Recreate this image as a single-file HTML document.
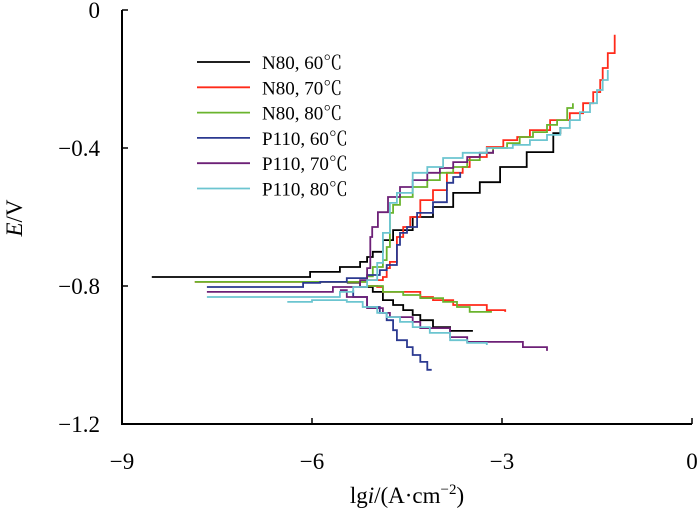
<!DOCTYPE html>
<html><head><meta charset="utf-8"><style>
body{margin:0;background:#fff;}
svg{display:block;font-family:"Liberation Serif","Noto Serif CJK SC",serif;}
</style></head><body>
<svg width="700" height="515" viewBox="0 0 700 515">
<g id="plot"></g>
<g id="axes"></g>
<g id="legend"></g>
</svg>
<script>
const xTicks = [-9, -6, -3, 0];
const yTicks = [0, -0.4, -0.8, -1.2];
const yTickLabels = ["0", "\u22120.4", "\u22120.8", "\u22121.2"];
const xTickLabels = ["\u22129", "\u22126", "\u22123", "0"];
const seriesNames = ["N80, 60\u2103","N80, 70\u2103","N80, 80\u2103","P110, 60\u2103","P110, 70\u2103","P110, 80\u2103"];
const seriesColors = ["#000000","#ff2a1a","#6ab42d","#2b3990","#6d2077","#6cc5d0"];
const n80_60_anodic = [[-8.53,-0.774],[-6.03,-0.759],[-5.56,-0.745],[-5.24,-0.730],[-5.13,-0.716],[-5.04,-0.701],[-4.88,-0.667],[-4.72,-0.638],[-4.41,-0.600],[-4.09,-0.571],[-3.77,-0.530],[-3.35,-0.499],[-3.03,-0.455],[-2.61,-0.412],[-2.19,-0.357],[-2.08,-0.339]];
const n80_60_cathodic = [[-5.45,-0.79],[-5.24,-0.803],[-5.04,-0.817],[-4.88,-0.841],[-4.72,-0.855],[-4.56,-0.870],[-4.41,-0.884],[-4.29,-0.899],[-4.09,-0.919],[-3.82,-0.930],[-3.46,-0.930]];
const n80_70_anodic = [[-7.85,-0.788],[-5.13,-0.783],[-4.88,-0.774],[-4.82,-0.748],[-4.77,-0.730],[-4.66,-0.701],[-4.66,-0.658],[-4.56,-0.629],[-4.45,-0.600],[-4.29,-0.551],[-4.09,-0.522],[-3.87,-0.472],[-3.62,-0.455],[-3.51,-0.426],[-3.24,-0.397],[-2.98,-0.377],[-2.76,-0.368],[-2.56,-0.348],[-2.24,-0.319],[-1.93,-0.299],[-1.72,-0.270],[-1.56,-0.238],[-1.45,-0.203],[-1.41,-0.168],[-1.33,-0.125],[-1.22,-0.125],[-1.22,-0.072]];
const n80_70_cathodic = [[-5.13,-0.80],[-4.97,-0.803],[-4.88,-0.817],[-4.29,-0.832],[-4.09,-0.841],[-3.77,-0.855],[-3.24,-0.870],[-2.95,-0.875]];
const n80_80_anodic = [[-7.85,-0.788],[-5.35,-0.788],[-5.13,-0.772],[-5.04,-0.745],[-4.88,-0.725],[-4.82,-0.687],[-4.77,-0.588],[-4.72,-0.565],[-4.61,-0.542],[-4.41,-0.513],[-4.18,-0.493],[-3.98,-0.472],[-3.77,-0.455],[-3.55,-0.435],[-3.35,-0.414],[-3.14,-0.400],[-2.92,-0.386],[-2.72,-0.368],[-2.51,-0.354],[-2.29,-0.333],[-2.13,-0.319],[-1.97,-0.284],[-1.88,-0.270]];
const n80_80_cathodic = [[-5.13,-0.80],[-4.88,-0.817],[-4.56,-0.826],[-4.29,-0.835],[-3.93,-0.846],[-3.71,-0.861],[-3.51,-0.875],[-3.16,-0.875]];
const p110_60_anodic = [[-7.66,-0.803],[-6.14,-0.791],[-5.87,-0.788],[-5.45,-0.777],[-5.13,-0.768],[-4.93,-0.754],[-4.82,-0.739],[-4.66,-0.681],[-4.61,-0.646],[-4.50,-0.629],[-4.34,-0.588],[-4.09,-0.557],[-3.87,-0.501],[-3.77,-0.484],[-3.66,-0.470]];
const p110_60_cathodic = [[-5.35,-0.812],[-5.35,-0.832],[-5.13,-0.861],[-4.93,-0.878],[-4.82,-0.899],[-4.72,-0.928],[-4.66,-0.957],[-4.50,-0.977],[-4.41,-1.000],[-4.29,-1.020],[-4.18,-1.043],[-4.11,-1.043]];
const p110_70_anodic = [[-7.66,-0.817],[-6.50,-0.817],[-5.67,-0.803],[-5.24,-0.783],[-5.13,-0.748],[-5.08,-0.658],[-5.05,-0.629],[-4.96,-0.586],[-4.80,-0.542],[-4.61,-0.513],[-4.41,-0.493],[-4.18,-0.472],[-3.98,-0.458],[-3.77,-0.441],[-3.55,-0.426],[-3.35,-0.414],[-3.14,-0.406]];
const p110_70_cathodic = [[-5.56,-0.812],[-5.45,-0.832],[-5.13,-0.864],[-4.88,-0.878],[-4.77,-0.890],[-4.41,-0.904],[-4.29,-0.922],[-3.82,-0.948],[-3.55,-0.962],[-2.67,-0.977],[-2.29,-0.988]];
const p110_80_anodic = [[-7.66,-0.832],[-5.56,-0.817],[-5.35,-0.803],[-5.13,-0.783],[-4.97,-0.733],[-4.88,-0.646],[-4.77,-0.559],[-4.66,-0.530],[-4.41,-0.472],[-4.18,-0.455],[-3.93,-0.429],[-3.62,-0.414],[-3.24,-0.400],[-2.83,-0.391],[-2.56,-0.377],[-2.29,-0.362],[-2.08,-0.342],[-1.93,-0.319],[-1.77,-0.296],[-1.61,-0.270],[-1.50,-0.232],[-1.41,-0.203],[-1.33,-0.174]];
const p110_80_cathodic = [[-6.39,-0.846],[-6.0,-0.841],[-5.45,-0.846],[-5.20,-0.861],[-4.97,-0.878],[-4.82,-0.890],[-4.61,-0.904],[-4.41,-0.919],[-4.14,-0.936],[-3.82,-0.957],[-3.55,-0.965],[-3.24,-0.971]];

const NS = "http://www.w3.org/2000/svg";
const X0 = 122, X1 = 692, Y0 = 10, Y1 = 424;
function xScale(v){ return X0 + (v + 9) / 9 * (X1 - X0); }
function yScale(v){ return Y0 + (0 - v) / 1.2 * (Y1 - Y0); }
function mk(tag, attrs, parent){ const e = document.createElementNS(NS, tag); for (const k in attrs) e.setAttribute(k, attrs[k]); parent.appendChild(e); return e; }

const plot = document.getElementById('plot');
const axes = document.getElementById('axes');
const legend = document.getElementById('legend');

const seriesData = [
  [n80_60_anodic, n80_60_cathodic],
  [n80_70_anodic, n80_70_cathodic],
  [n80_80_anodic, n80_80_cathodic],
  [p110_60_anodic, p110_60_cathodic],
  [p110_70_anodic, p110_70_cathodic],
  [p110_80_anodic, p110_80_cathodic]
];
function stepPath(pts){
  let d = "M" + xScale(pts[0][0]).toFixed(1) + " " + yScale(pts[0][1]).toFixed(1);
  for (let i = 1; i < pts.length; i++) {
    d += " H" + xScale(pts[i][0]).toFixed(1) + " V" + yScale(pts[i][1]).toFixed(1);
  }
  return d;
}
const branchNames = ["anodic", "cathodic"];
seriesData.forEach((branches, si) => {
  branches.forEach((pts, bi) => {
    const p = mk('path', {d: stepPath(pts), fill: 'none', stroke: seriesColors[si], 'stroke-width': 1.8}, plot);
    
    
  });
});

const ya = mk('line', {x1: X0, y1: Y0, x2: X0, y2: Y1, stroke: '#000', 'stroke-width': 2}, axes);


const xa = mk('line', {x1: X0 - 1, y1: Y1, x2: X1, y2: Y1, stroke: '#000', 'stroke-width': 2}, axes);


xTicks.forEach((v, i) => {
  const x = xScale(v);
  const t = mk('line', {x1: x, y1: Y1, x2: x, y2: Y1 - 6, stroke: '#000', 'stroke-width': 1.5}, axes);
  
  
  const l = mk('text', {x: x, y: Y1 + 45, 'text-anchor': 'middle', 'font-size': 23}, axes);
  l.textContent = xTickLabels[i];
  
  
});
yTicks.forEach((v, i) => {
  const y = yScale(v);
  const t = mk('line', {x1: X0, y1: y, x2: X0 + 6, y2: y, stroke: '#000', 'stroke-width': 1.5}, axes);
  
  
  const l = mk('text', {x: 100, y: y + 8, 'text-anchor': 'end', 'font-size': 23}, axes);
  l.textContent = yTickLabels[i];
  
  
});
const xt = mk('text', {x: 407, y: 503, 'text-anchor': 'middle', 'font-size': 23}, axes);
xt.innerHTML = 'lg<tspan font-style="italic">i</tspan>/(A·cm<tspan font-size="15" dy="-9">−2</tspan><tspan dy="9">)</tspan>';


const yt = mk('text', {x: 0, y: 0, 'text-anchor': 'middle', 'font-size': 23, transform: 'translate(22,218) rotate(-90)'}, axes);
yt.innerHTML = '<tspan font-style="italic">E</tspan>/V';



seriesNames.forEach((name, i) => {
  const y = 62 + i * 25.3;
  const g = mk('g', {}, legend);
  
  
  mk('line', {x1: 197, y1: y, x2: 250, y2: y, stroke: seriesColors[i], 'stroke-width': 1.8}, g);
  const t = mk('text', {x: 262, y: y + 7, 'font-size': 19}, g);
  t.textContent = name;
});
</script>
</body></html>
